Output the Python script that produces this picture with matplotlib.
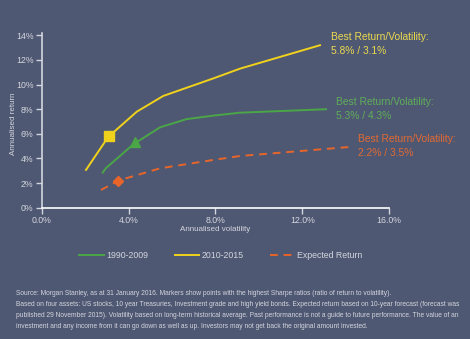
import matplotlib.pyplot as plt

# Data (annualised volatility %, annualised return %)
vol_9009 = [2.81, 2.95, 4.22, 5.45, 6.68, 7.9, 9.14, 13.1]
ret_9009 = [2.85, 3.2, 5.15, 6.53, 7.2, 7.48, 7.72, 8.0]

vol_1015 = [2.04, 3.06, 4.38, 5.6, 7.9, 9.14, 12.82]
ret_1015 = [3.07, 5.74, 7.8, 9.08, 10.5, 11.3, 13.2]

vol_exp = [2.73, 3.56, 5.45, 7.9, 9.14, 14.36]
ret_exp = [1.44, 2.22, 3.2, 3.88, 4.2, 4.96]

best_9009 = (4.3, 5.3)
best_1015 = (3.1, 5.8)
best_exp = (3.5, 2.2)

xticks = [0, 4, 8, 12, 16]
yticks = [0, 2, 4, 6, 8, 10, 12, 14]

footnote = [
    "Source: Morgan Stanley, as at 31 January 2016. Markers show points with the highest Sharpe ratios (ratio of return to volatility).",
    "Based on four assets: US stocks, 10 year Treasuries, Investment grade and high yield bonds. Expected return based on 10-year forecast (forecast was",
    "published 29 November 2015). Volatility based on long-term historical average. Past performance is not a guide to future performance. The value of an",
    "investment and any income from it can go down as well as up. Investors may not get back the original amount invested.",
]

bg = "#4f5873"
yellow = "#f0d21c"
green = "#4aa646"
orange = "#e8652a"
grey = "#d3d6de"

plt.rcParams['font.family'] = ['Liberation Sans', 'DejaVu Sans']

fig = plt.figure(figsize=(4.7, 3.39), dpi=100, facecolor=bg)
ax = fig.add_axes([0.0887, 0.3873, 0.739, 0.5156], facecolor=bg)

ax.plot(vol_9009, ret_9009, color=green, lw=1.4, label="1990-2009")
ax.plot(vol_1015, ret_1015, color=yellow, lw=1.4, label="2010-2015")
ax.plot(vol_exp, ret_exp, color=orange, lw=1.4, ls=(0, (4, 3)), label="Expected Return")

ax.plot(*best_9009, marker="^", color=green, ms=6.5)
ax.plot(*best_1015, marker="s", color=yellow, ms=7)
ax.plot(*best_exp, marker="D", color=orange, ms=5.5)

ax.set_xlim(0, 16)
ax.set_ylim(0, 14.2)
ax.set_xticks(xticks)
ax.set_xticklabels([f"{t:.1f}%" for t in xticks])
ax.set_yticks(yticks)
ax.set_yticklabels([f"{t}%" for t in yticks])
ax.tick_params(colors=grey, labelsize=6.3, length=4, width=1, pad=2)

for s in ["top", "right"]:
    ax.spines[s].set_visible(False)
ax.spines["left"].set_color(grey)
ax.spines["bottom"].set_color("white")
ax.spines["left"].set_linewidth(1.2)
ax.spines["bottom"].set_linewidth(1.2)

ax.set_xlabel("Annualised volatility", color=grey, fontsize=5.8, labelpad=1)
ax.set_ylabel("Annualised return", color=grey, fontsize=5.8)
ax.yaxis.set_label_coords(-0.07, 0.48)

# annotations
ax.text(13.35, 13.3, f"Best Return/Volatility:\n{best_1015[1]}% / {best_1015[0]}%",
        color="#ebd94e", fontsize=7.4, va="center", linespacing=1.45)
ax.text(13.55, 8.0, f"Best Return/Volatility:\n{best_9009[1]}% / {best_9009[0]}%",
        color="#5fae58", fontsize=7.4, va="center", linespacing=1.45)
ax.text(14.55, 5.0, f"Best Return/Volatility:\n{best_exp[1]}% / {best_exp[0]}%",
        color="#e26a32", fontsize=7.4, va="center", linespacing=1.45, clip_on=False)

leg = fig.legend(loc="center", bbox_to_anchor=(0.47, 0.245), ncol=3, frameon=False,
                 fontsize=6.3, handlelength=2.8, columnspacing=3.0, handletextpad=0.3)
for t in leg.get_texts():
    t.set_color(grey)

y = 1 - 293.3 / 339
for line in footnote:
    fig.text(0.034, y, line, color=grey, fontsize=4.75, va="center")
    y -= 11.1 / 339

fig.savefig("out.png", dpi=100, facecolor=bg)
